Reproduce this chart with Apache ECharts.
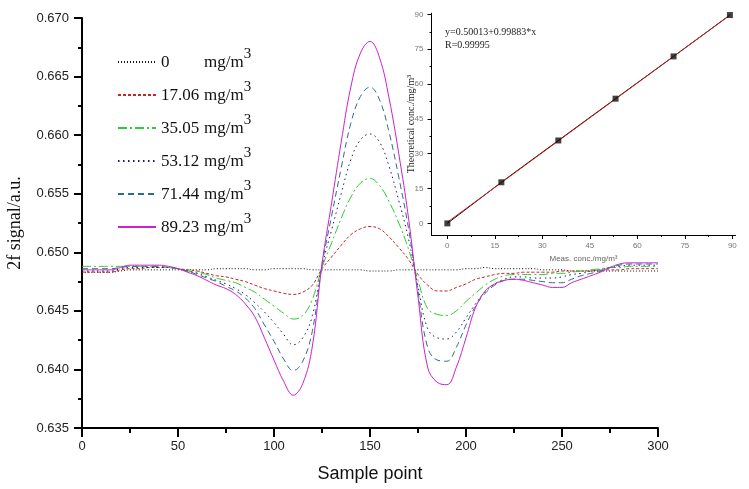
<!DOCTYPE html>
<html><head><meta charset="utf-8">
<script src="https://cdn.jsdelivr.net/npm/echarts@6/dist/echarts.min.js"></script>
<style>html,body{margin:0;padding:0;background:#fff}#c{width:749px;height:489px}</style>
</head><body><div id="c"></div>
<script>
const samplePoints = [0,5,10,15,20,25,30,35,40,45,50,55,60,65,70,75,80,85,90,95,100,105,110,115,120,125,130,135,140,145,150,155,160,165,170,175,180,185,190,195,200,205,210,215,220,225,230,235,240,245,250,255,260,265,270,275,280,285,290,295,300];
const concLabels = ['0','17.06','35.05','53.12','71.44','89.23'];
const sig0 = [0.6483,0.6483,0.6483,0.6483,0.6484,0.6485,0.6485,0.6485,0.6485,0.6485,
0.6485,0.6485,0.6485,0.6485,0.6486,0.6486,0.6486,0.6486,0.6485,0.6485,
0.6486,0.6486,0.6486,0.6486,0.6485,0.6485,0.6485,0.6485,0.6485,0.6485,
0.6484,0.6484,0.6484,0.6485,0.6485,0.6485,0.6485,0.6485,0.6485,0.6485,
0.6486,0.6486,0.6487,0.6486,0.6486,0.6486,0.6486,0.6486,0.6485,0.6485,
0.6485,0.6484,0.6484,0.6484,0.6484,0.6484,0.6484,0.6484,0.6484,0.6484,0.6484];
const sig17 = [0.6483,0.6483,0.6483,0.6483,0.6485,0.6486,0.6486,0.6487,0.6487,0.6487,
0.6486,0.6485,0.6484,0.6482,0.6480,0.6479,0.6477,0.6475,0.6472,0.6469,
0.6467,0.6465,0.6464,0.6466,0.6472,0.6486,0.6496,0.6506,0.6515,0.6520,
0.6522,0.6520,0.6513,0.6504,0.6494,0.6481,0.6472,0.6467,0.6467,0.6470,
0.6473,0.6477,0.6479,0.6481,0.6482,0.6482,0.6483,0.6483,0.6483,0.6483,
0.6484,0.6484,0.6484,0.6484,0.6485,0.6485,0.6485,0.6486,0.6486,0.6486,0.6486];
const sig35 = [0.6488,0.6488,0.6488,0.6488,0.6488,0.6488,0.6488,0.6488,0.6488,0.6487,
0.6486,0.6484,0.6483,0.6481,0.6478,0.6476,0.6474,0.6470,0.6466,0.6460,
0.6454,0.6448,0.6443,0.6446,0.6460,0.6487,0.6508,0.6529,0.6547,0.6559,
0.6563,0.6557,0.6543,0.6525,0.6503,0.6476,0.6452,0.6447,0.6446,0.6450,
0.6458,0.6465,0.6472,0.6477,0.6480,0.6481,0.6481,0.6481,0.6481,0.6482,
0.6482,0.6483,0.6484,0.6485,0.6486,0.6487,0.6487,0.6488,0.6488,0.6488,0.6488];
const sig53 = [0.6484,0.6484,0.6484,0.6484,0.6486,0.6487,0.6487,0.6487,0.6487,0.6487,
0.6486,0.6484,0.6482,0.6479,0.6476,0.6473,0.6469,0.6464,0.6457,0.6449,
0.6440,0.6430,0.6421,0.6427,0.6446,0.6488,0.6519,0.6550,0.6579,0.6596,
0.6601,0.6594,0.6573,0.6544,0.6512,0.6471,0.6435,0.6427,0.6426,0.6432,
0.6444,0.6456,0.6466,0.6473,0.6477,0.6479,0.6479,0.6478,0.6478,0.6478,
0.6479,0.6481,0.6482,0.6484,0.6485,0.6487,0.6488,0.6489,0.6489,0.6489,0.6489];
const sig71 = [0.6486,0.6486,0.6486,0.6486,0.6487,0.6488,0.6488,0.6488,0.6488,0.6487,
0.6486,0.6484,0.6481,0.6478,0.6475,0.6471,0.6467,0.6461,0.6452,0.6438,
0.6424,0.6409,0.6399,0.6407,0.6433,0.6489,0.6531,0.6572,0.6610,0.6633,
0.6641,0.6630,0.6602,0.6564,0.6521,0.6467,0.6419,0.6408,0.6407,0.6419,
0.6438,0.6454,0.6465,0.6472,0.6476,0.6477,0.6477,0.6476,0.6475,0.6474,
0.6474,0.6477,0.6480,0.6482,0.6484,0.6487,0.6489,0.6490,0.6490,0.6490,0.6490];
const sig89 = [0.6485,0.6485,0.6485,0.6485,0.6487,0.6489,0.6489,0.6489,0.6489,0.6488,
0.6486,0.6483,0.6480,0.6476,0.6472,0.6469,0.6464,0.6456,0.6445,0.6427,
0.6408,0.6390,0.6378,0.6388,0.6420,0.6490,0.6542,0.6594,0.6641,0.6670,
0.6680,0.6666,0.6631,0.6584,0.6530,0.6462,0.6402,0.6389,0.6387,0.6402,
0.6427,0.6453,0.6467,0.6473,0.6476,0.6477,0.6476,0.6474,0.6472,0.6470,
0.6470,0.6474,0.6477,0.6480,0.6483,0.6487,0.6490,0.6491,0.6491,0.6491,0.6491];
const measConc = [0,17.06,35.05,53.12,71.44,89.23];
const theoConc = [0,17.7,35.7,53.7,71.9,89.7];
const fitX = [0,89.23];
const fitY = [0.50013,89.63];
const insetTicks = [0,15,30,45,60,75,90];
const insetMinorTicks = [7.5,22.5,37.5,52.5,67.5,82.5];
const fitText = ['y=0.50013+0.99883*x','R=0.99995'];

const signals = [sig0,sig17,sig35,sig53,sig71,sig89];
const colors = ['#111111','#c0282a','#2ecc2e','#1a1a70','#2a6f8a','#cc22cc'];
const dashTypes = [[1,2],[3,2],[9,3,2,3],[1.5,3.5],[6,4],'solid'];

const chart = echarts.init(document.getElementById('c'), null, {renderer:'canvas'});
const serif = '"Liberation Serif","Times New Roman",serif';
const sans = '"Liberation Sans",Arial,sans-serif';

const series = signals.map((arr, k) => ({
  name: concLabels[k], type: 'line', xAxisIndex: 0, yAxisIndex: 0,
  symbol: 'none', smooth: 0.4, z: 3,
  lineStyle: {color: colors[k], width: 1, type: dashTypes[k]},
  itemStyle: {color: colors[k]},
  data: samplePoints.map((x, i) => [x, arr[i]])
}));
series.push({
  type: 'line', xAxisIndex: 1, yAxisIndex: 1, symbol: 'none',
  lineStyle: {color: '#000', width: 1}, data: measConc.map((x,i)=>[x, theoConc[i]])
});
series.push({
  type: 'line', xAxisIndex: 1, yAxisIndex: 1, symbol: 'none',
  lineStyle: {color: '#d42020', width: 1}, data: fitX.map((x,i)=>[x, fitY[i]])
});
series.push({
  type: 'scatter', xAxisIndex: 1, yAxisIndex: 1, symbol: 'rect', symbolSize: 6,
  itemStyle: {color: '#111'}, data: measConc.map((x,i)=>[x, theoConc[i]]), z: 5
});

const insetLabel = {fontFamily: sans, fontSize: 8, color: '#777'};
const option = {
  animation: false,
  backgroundColor: '#fff',
  grid: [
    {left: 82, top: 18, right: 91, bottom: 61, outerBoundsMode: 'none', containLabel: false},
    {left: 431.5, top: 13.2, right: 13.5, bottom: 254, outerBoundsMode: 'none', containLabel: false}
  ],
  legend: {
    data: concLabels, orient: 'vertical', left: 117, top: 41, padding: 0,
    itemWidth: 38, itemHeight: 12, itemGap: 3,
    itemStyle: {opacity: 0},
    formatter: n => '{n|' + n + '}{u|mg/m}{s|3}',
    textStyle: {
      rich: {
        n: {fontFamily: serif, fontSize: 17, color: '#111', width: 43, lineHeight: 18, padding: [13,0,0,0], verticalAlign: 'bottom'},
        u: {fontFamily: serif, fontSize: 17, color: '#111', lineHeight: 18, padding: [13,0,0,0], verticalAlign: 'bottom'},
        s: {fontFamily: serif, fontSize: 15, color: '#111', lineHeight: 14, padding: [0,0,9,0], verticalAlign: 'bottom'}
      }
    }
  },
  xAxis: [
    {gridIndex: 0, type: 'value', min: 0, max: 300, interval: 50,
     name: 'Sample point', nameLocation: 'middle', nameGap: 37,
     nameTextStyle: {fontFamily: sans, fontSize: 18, color: '#111'},
     axisLine: {lineStyle: {color: '#000', width: 2}},
     axisTick: {length: 9, lineStyle: {width: 2, color: '#000'}},
     minorTick: {show: true, splitNumber: 2, length: 5, lineStyle: {width: 2, color: '#000'}},
     axisLabel: {fontFamily: sans, fontSize: 13, color: '#222', margin: 12},
     splitLine: {show: false}},
    {gridIndex: 1, type: 'value', min: -5, max: 91,
     name: 'Meas. conc./mg/m\u00b3', nameLocation: 'middle', nameGap: 20,
     nameTextStyle: {fontFamily: sans, fontSize: 8, color: '#666'},
     axisLine: {onZero: false, lineStyle: {color: '#000', width: 1}},
     axisTick: {customValues: insetTicks, length: 4, lineStyle: {color: '#000'}},
     axisLabel: Object.assign({customValues: insetTicks, margin: 7}, insetLabel),
     splitLine: {show: false}},
    {gridIndex: 1, type: 'value', min: -5, max: 91, position: 'bottom',
     axisLine: {show: false, onZero: false}, axisLabel: {show: false},
     axisTick: {customValues: insetMinorTicks, length: 2, lineStyle: {color: '#000'}},
     splitLine: {show: false}}
  ],
  yAxis: [
    {gridIndex: 0, type: 'value', min: 0.635, max: 0.670, interval: 0.005,
     name: '2f signal/a.u.', nameLocation: 'middle', nameGap: 58, nameRotate: 90,
     nameTextStyle: {fontFamily: serif, fontSize: 18, color: '#111'},
     axisLine: {lineStyle: {color: '#000', width: 2}},
     axisTick: {length: 8, lineStyle: {width: 2, color: '#000'}},
     minorTick: {show: true, splitNumber: 2, length: 4, lineStyle: {width: 2, color: '#000'}},
     axisLabel: {fontFamily: sans, fontSize: 13, color: '#222', margin: 13, formatter: v => v.toFixed(3)},
     splitLine: {show: false}},
    {gridIndex: 1, type: 'value', min: -5, max: 90.5,
     name: 'Theoretical conc./mg/m\u00b3', nameLocation: 'middle', nameGap: 15, nameRotate: 90,
     nameMoveOverlap: false,
     nameTextStyle: {fontFamily: serif, fontSize: 10, color: '#222'},
     axisLine: {onZero: false, lineStyle: {color: '#000', width: 1}},
     axisTick: {customValues: insetTicks, length: 4, lineStyle: {color: '#000'}},
     axisLabel: Object.assign({customValues: insetTicks, margin: 8}, insetLabel),
     splitLine: {show: false}},
    {gridIndex: 1, type: 'value', min: -5, max: 90.5, position: 'left',
     axisLine: {show: false, onZero: false}, axisLabel: {show: false},
     axisTick: {customValues: insetMinorTicks, length: 2, lineStyle: {color: '#000'}},
     splitLine: {show: false}}
  ],
  graphic: [
    {type: 'text', left: 445, top: 27, style: {text: fitText[0], font: '10px ' + serif, fill: '#222'}},
    {type: 'text', left: 445, top: 40, style: {text: fitText[1], font: '10px ' + serif, fill: '#222'}}
  ],
  series: series
};
chart.setOption(option);
</script></body></html>
